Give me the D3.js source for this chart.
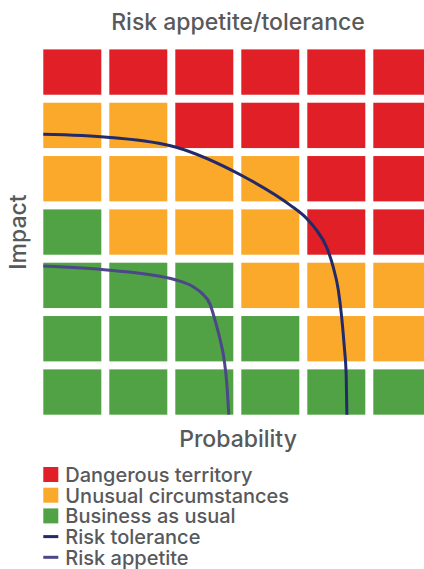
<!DOCTYPE html>
<html>
<head>
<meta charset="utf-8">
<script src="https://cdn.jsdelivr.net/npm/d3@7"></script>
<style>
  body { margin: 0; background: #fff; }
  text { font-family: Inter, "Liberation Sans", Arial, sans-serif; font-weight: 500; fill: #58595b; }
</style>
</head>
<body>
<svg width="424" height="569"></svg>
<script>
// grid levels, rows listed from top (impact 7) to bottom (impact 1)
var probability = [1, 2, 3, 4, 5, 6];
var impact = [7, 6, 5, 4, 3, 2, 1];
var zones = [
  ["D", "D", "D", "D", "D", "D"],
  ["U", "U", "D", "D", "D", "D"],
  ["U", "U", "U", "U", "D", "D"],
  ["B", "U", "U", "U", "D", "D"],
  ["B", "B", "B", "U", "U", "U"],
  ["B", "B", "B", "B", "U", "U"],
  ["B", "B", "B", "B", "B", "B"]
];
var legendLabels = ["Dangerous territory", "Unusual circumstances", "Business as usual", "Risk tolerance", "Risk appetite"];

// curves in grid units (x = probability, y = impact)
var toleranceX = [0, 1.01, 2.00, 3.00, 3.74, 3.99, 4.14, 4.29, 4.39, 4.47, 4.52, 4.56, 4.59, 4.60];
var toleranceY = [5.26, 5.20, 5.02, 4.49, 3.93, 3.68, 3.46, 3.15, 2.78, 2.34, 1.84, 1.28, 0.71, 0];
var appetiteX = [0, 1.01, 2.00, 2.27, 2.40, 2.53, 2.60, 2.68, 2.74, 2.78, 2.81];
var appetiteY = [2.79, 2.71, 2.53, 2.40, 2.28, 2.06, 1.78, 1.40, 1.03, 0.59, 0];

var colors = {D: "#e01f26", U: "#fba92a", B: "#50a245"};
var tolColor = "#232a6a", appColor = "#4b4789";

var svg = d3.select("svg");
var gap = 8;

var x = d3.scaleLinear().domain([0, 6]).range([43.3, 439.3]);
var y = d3.scaleLinear().domain([0, 7]).range([414.7, 41.4]);

var cells = [];
zones.forEach(function(row, r) {
  row.forEach(function(z, c) {
    cells.push({p: probability[c], i: impact[r], zone: z});
  });
});

svg.append("g").selectAll("rect")
    .data(cells)
    .enter().append("rect")
    .attr("x", function(d) { return x(d.p - 1); })
    .attr("y", function(d) { return y(d.i) + gap; })
    .attr("width", x(1) - x(0) - gap)
    .attr("height", y(0) - y(1) - gap)
    .attr("fill", function(d) { return colors[d.zone]; });

var line = d3.line()
    .x(function(d) { return x(d[0]); })
    .y(function(d) { return y(d[1]); })
    .curve(d3.curveMonotoneX);

svg.append("path")
    .datum(d3.zip(toleranceX, toleranceY))
    .attr("d", line)
    .attr("fill", "none")
    .attr("stroke", tolColor)
    .attr("stroke-width", 3);

svg.append("path")
    .datum(d3.zip(appetiteX, appetiteY))
    .attr("d", line)
    .attr("fill", "none")
    .attr("stroke", appColor)
    .attr("stroke-width", 3);

// titles
svg.append("text")
    .attr("x", 238).attr("y", 30)
    .attr("text-anchor", "middle")
    .attr("font-size", 23)
    .text("Risk appetite/tolerance");

svg.append("text")
    .attr("x", 238).attr("y", 447)
    .attr("text-anchor", "middle")
    .attr("font-size", 23)
    .text("Probability");

svg.append("text")
    .attr("transform", "translate(26,232) rotate(-90)")
    .attr("text-anchor", "middle")
    .attr("font-size", 23)
    .text("Impact");

// legend
var legendKinds = ["D", "U", "B", "tol", "app"];
var lg = svg.append("g").selectAll("g")
    .data(legendKinds)
    .enter().append("g")
    .attr("transform", function(d, i) { return "translate(43.3," + (467 + i * 20.7) + ")"; });

lg.each(function(d, i) {
  var g = d3.select(this);
  if (colors[d]) {
    g.append("rect").attr("x", 0).attr("y", 0).attr("width", 15).attr("height", 15).attr("fill", colors[d]);
  } else {
    g.append("rect").attr("x", 0).attr("y", 6).attr("width", 15).attr("height", 3)
        .attr("fill", d == "tol" ? tolColor : appColor);
  }
  g.append("text").attr("x", 22).attr("y", 15).attr("font-size", 20).text(legendLabels[i]);
});
</script>
</body>
</html>
